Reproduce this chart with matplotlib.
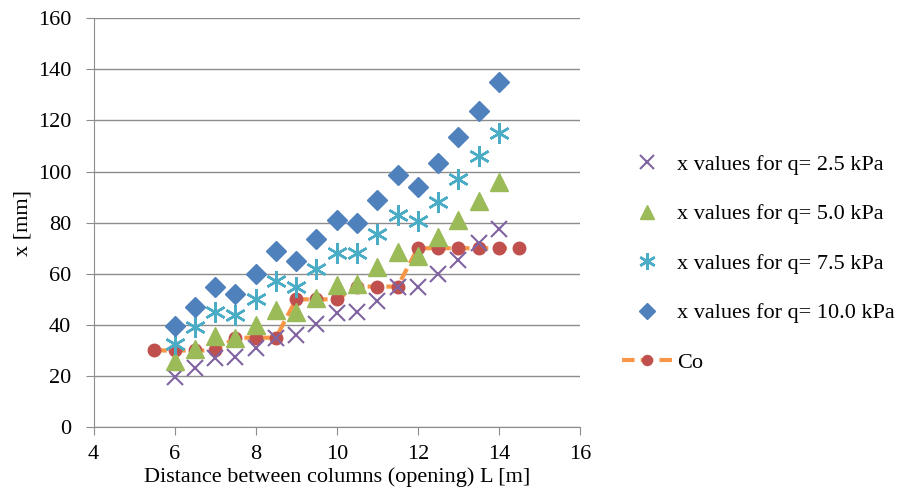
import numpy as np
import matplotlib.pyplot as plt

plt.rcParams['font.family'] = ['Liberation Serif', 'DejaVu Serif']

# datos
L = [6, 6.5, 7, 7.5, 8, 8.5, 9, 9.5, 10, 10.5, 11, 11.5, 12, 12.5, 13, 13.5, 14]
x_q25 = [19.5, 23, 27, 27.5, 31, 35, 36, 40.5, 44.5, 45, 49.5, 55, 55, 60, 65.5, 72, 77.5]
x_q50 = [26, 30.5, 35.5, 35, 40, 46, 45, 50.5, 55.5, 56, 62.5, 68.5, 67, 74.5, 81, 88.5, 96]
x_q75 = [32.5, 39, 45, 44, 50, 57, 55, 62, 68, 68, 75.5, 83, 80.5, 88, 97, 106, 115]
x_q100 = [39.5, 47, 55, 52, 60, 69, 65, 73.5, 81, 80, 89, 98.5, 94, 103.5, 113.5, 123.5, 135]

L_co = [5.5, 6, 6.5, 7, 7.5, 8, 8.5, 9, 9.5, 10, 10.5, 11, 11.5, 12, 12.5, 13, 13.5, 14, 14.5]
co = [30, 30, 30, 30, 35, 35, 35, 50, 50, 50, 55, 55, 55, 70, 70, 70, 70, 70, 70]

fig = plt.figure(figsize=(9.04, 4.91), dpi=100)
ax = fig.add_axes([0.1035, 0.130, 0.538, 0.833])

asterisco = (6, 2, 0)
ax.plot(L, x_q25, 'x', color='#8064A2', ms=12, mew=1.5, label='x values for q= 2.5 kPa')
ax.plot(L, x_q50, '^', color='#9BBB59', ms=13, label='x values for q= 5.0 kPa')
ax.plot(L, x_q75, marker=asterisco, ls='none', color='#4BACC6', ms=15, mew=1.8, label='x values for q= 7.5 kPa')
ax.plot(L, x_q100, 'D', color='#4F81BD', ms=10, label='x values for q= 10.0 kPa')
ax.plot(L_co, co, '--o', color='#F79646', lw=3, dashes=(3, 1.5), ms=9, mfc='#C0504D', mec='#C0504D',
        label='Co', zorder=1)

ax.set_xlim(4, 16)
ax.set_ylim(0, 160)
ax.set_xticks(np.arange(4, 17, 2))
ax.set_yticks(np.arange(0, 161, 20))
ax.grid(axis='y', color='#8C8C8C', lw=1)
ax.set_axisbelow(True)
for s in ['top', 'right']:
    ax.spines[s].set_visible(False)
for s in ['left', 'bottom']:
    ax.spines[s].set_color('#8C8C8C')
ax.tick_params(colors='#8C8C8C', labelcolor='black', labelsize=16, length=6)
ax.tick_params(axis='x', pad=6.5)
ax.tick_params(axis='y', pad=10)
ax.set_xlabel('Distance between columns (opening) L [m]', fontsize=16, labelpad=3)
ax.set_ylabel('x [mm]', fontsize=16, labelpad=4)

leg = ax.legend(loc='center left', bbox_to_anchor=(1.045, 0.40), frameon=False, fontsize=16,
                handlelength=2.3, handletextpad=0.2, labelspacing=1.3, markerscale=0.8)

fig.savefig('out.png')
